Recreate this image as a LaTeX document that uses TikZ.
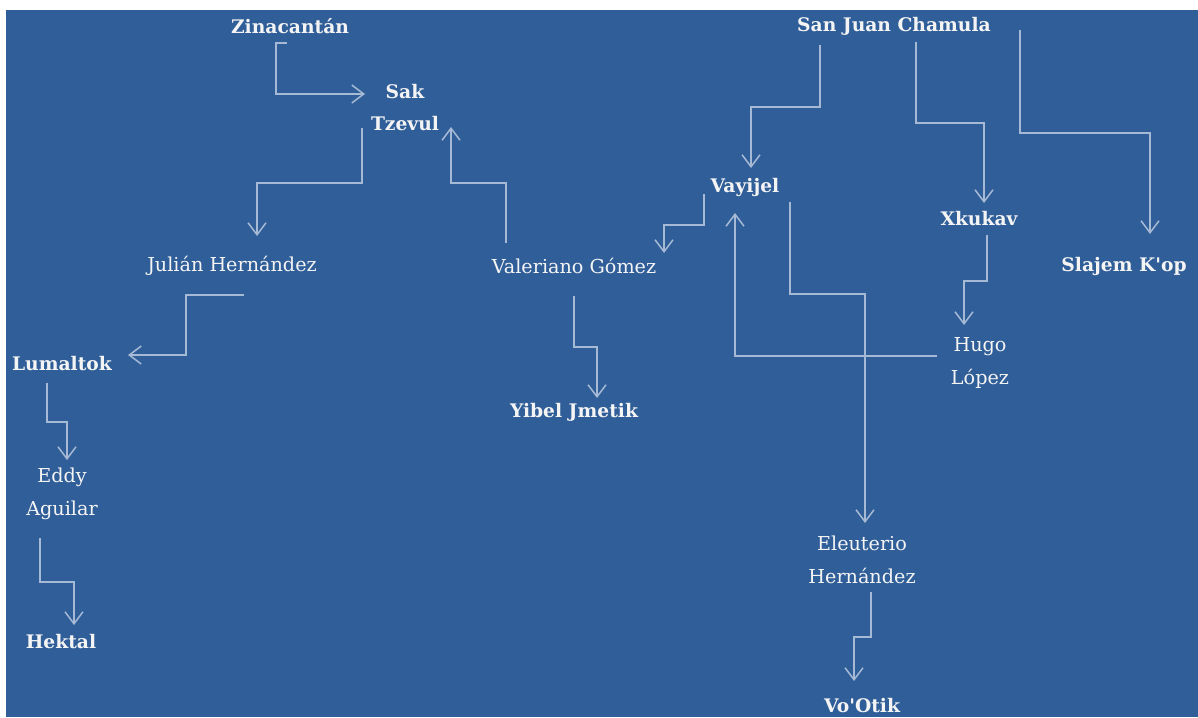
\documentclass[tikz,border=0pt]{standalone}
\usepackage{fontspec}
\setmainfont{DejaVu Serif}
\usepackage{tikz}
\usetikzlibrary{arrows.meta,calc}
\definecolor{bgblue}{HTML}{305E99}
\definecolor{linkcol}{HTML}{A7BAD5}
\definecolor{labeltext}{HTML}{F4F4F4}
\tikzstyle{place} = [text=labeltext, font=\bfseries\fontsize{18.7}{32}\selectfont, align=center, inner sep=0pt]
\tikzstyle{person} = [text=labeltext, font=\fontsize{19.2}{33}\selectfont, align=center, inner sep=0pt]
\tikzstyle{line} = [draw=linkcol, line width=1.5pt, -{Straight Barb[length=12pt,width=18pt]}]

\begin{document}
\begin{tikzpicture}[x=1pt, y=-1pt]
    \useasboundingbox (0,0) rectangle (1198,717);
    \fill [white] (0,0) rectangle (1198,717);
    \fill [bgblue] (6,10) rectangle (1198,717);

    % Place nodes
    \node [place] (zina) at (290,26) {Zinacantán};
    \node [place] (sak) at (405,108) {Sak\\Tzevul};
    \node [person] (julian) at (232,266) {Julián Hernández};
    \node [person] (valeriano) at (574,266) {Valeriano Gómez};
    \node [place] (lumal) at (62,364) {Lumaltok};
    \node [person] (eddy) at (62,494) {Eddy\\Aguilar};
    \node [place] (hektal) at (61,642) {Hektal};
    \node [place] (yibel) at (574,412) {Yibel Jmetik};
    \node [place] (sjc) at (894,26) {San Juan Chamula};
    \node [place] (vayijel) at (745,187) {Vayijel};
    \node [place] (xkukav) at (979,219) {Xkukav};
    \node [place] (slajem) at (1124,266) {Slajem K\textquotesingle op};
    \node [person] (hugo) at (980,363) {Hugo\\López};
    \node [person] (eleut) at (862,560) {Eleuterio\\Hernández};
    \node [place] (votik) at (862,706) {Vo\textquotesingle Otik};

    % Draw edges
    \path [line] (zina.center) ++(-3,17) -- ++(-11,0) |- ($(sak.center)+(-40,-14)$);
    \path [line] (sak.center) ++(-43,20) -- ++(0,55) -| ($(julian.center)+(25,-30)$);
    \path [line] (valeriano.center) ++(-68,-23) -- ++(0,-60) -| ($(sak.center)+(46,19)$);
    \path [line] (julian.center) ++(12,29) -- ++(-58,0) |- ($(lumal.center)+(66,-9)$);
    \path [line] (lumal.center) ++(-15,19) -- ++(0,39) -| ($(eddy.center)+(5,-34)$);
    \path [line] (eddy.center) ++(-22,44) -- ++(0,44) -| ($(hektal.center)+(13,-17)$);
    \path [line] (valeriano.center) ++(0,30) -- ++(0,51) -| ($(yibel.center)+(23,-14)$);
    \path [line] (sjc.center) ++(-74,19) -- ++(0,62) -| ($(vayijel.center)+(6,-19)$);
    \path [line] (vayijel.center) ++(-41,7) -- ++(0,31) -| ($(valeriano.center)+(90,-13)$);
    \path [line] (hugo.center) ++(-43,-7) -| ($(vayijel.center)+(-10,26)$);
    \path [line] (vayijel.center) ++(45,15) -- ++(0,92) -| ($(eleut.center)+(3,-37)$);
    \path [line] (eleut.center) ++(9,32) -- ++(0,45) -| ($(votik.center)+(-8,-25)$);
    \path [line] (sjc.center) ++(22,16) -- ++(0,81) -| ($(xkukav.center)+(5,-16)$);
    \path [line] (sjc.center) ++(126,4) -- ++(0,103) -| ($(slajem.center)+(26,-32)$);
    \path [line] (xkukav.center) ++(8,16) -- ++(0,46) -| ($(hugo.center)+(-16,-38)$);
\end{tikzpicture}
\end{document}
